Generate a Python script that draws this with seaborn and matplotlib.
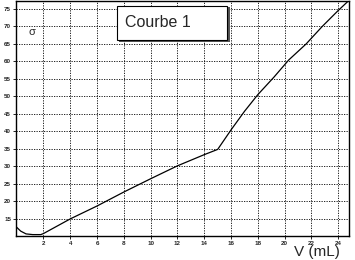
import matplotlib
matplotlib.use("Agg")
import matplotlib.pyplot as plt
import seaborn as sns
import pandas as pd
from matplotlib.patches import FancyBboxPatch

volume_ml = [0.0, 0.3, 0.7, 1.2, 1.8, 2.0, 3.0, 4.0, 6.0, 8.0, 10.0, 12.0, 14.0, 15.0,
             16.0, 17.0, 18.0, 19.2, 20.3, 21.6, 22.8, 24.0, 24.75]
sigma = [12.5, 11.4, 10.6, 10.4, 10.4, 10.7, 12.8, 14.9, 18.6, 22.6, 26.4, 30.1, 33.3, 34.8,
         40.4, 45.7, 50.5, 55.5, 60.4, 65.0, 70.0, 74.6, 77.3]
x_ticks = [2, 4, 6, 8, 10, 12, 14, 16, 18, 20, 22, 24]
y_ticks = [15, 20, 25, 30, 35, 40, 45, 50, 55, 60, 65, 70, 75]

sns.set_style("ticks")
plt.rcParams['font.family'] = ['Liberation Sans', 'DejaVu Sans']

df = pd.DataFrame({"V": volume_ml, "sigma": sigma})

fig = plt.figure(figsize=(3.55, 2.6), dpi=100)
ax = fig.add_axes([16/355, 24/260, 333/355, 235/260])
sns.lineplot(data=df, x="V", y="sigma", ax=ax, color="black", linewidth=0.9,
             sort=False, estimator=None)

ax.set_xlim(-0.05, 24.8)
ax.set_ylim(10, 77.3)
ax.set_xticks(x_ticks)
ax.set_yticks(y_ticks)
ax.tick_params(axis="both", labelsize=4.5, length=2, width=0.6, pad=1.5, color="black")
for lab in ax.get_xticklabels() + ax.get_yticklabels():
    lab.set_fontweight("bold")
ax.grid(True, color="black", linestyle=(0, (1.5, 1.5)), linewidth=0.6)
for s in ax.spines.values():
    s.set_linewidth(1.0)
    s.set_color("black")
ax.set_xlabel("")
ax.set_ylabel("")

# σ label
ax.text(0.9, 68.5, "σ", fontsize=8, ha="left", va="center")

# Courbe 1 box with shadow
box_ax = fig.add_axes([117/355, (260-40)/260, 111/355, 35/260])
box_ax.set_xlim(0, 1)
box_ax.set_ylim(0, 1)
box_ax.axis("off")
shadow = plt.Rectangle((0.02, -0.06), 1.0, 1.0, facecolor="#555555", edgecolor="none",
                       transform=box_ax.transAxes, clip_on=False)
box_ax.add_patch(shadow)
rect = plt.Rectangle((0, 0), 0.99, 0.97, facecolor="white", edgecolor="black", linewidth=0.8,
                     transform=box_ax.transAxes, clip_on=False)
box_ax.add_patch(rect)
box_ax.text(0.37, 0.5, "Courbe 1", fontsize=11.5, ha="center", va="center")

fig.text(317/355, 1 - 252/260, "V (mL)", fontsize=11, ha="center", va="center")

fig.savefig("out.png", dpi=100)
